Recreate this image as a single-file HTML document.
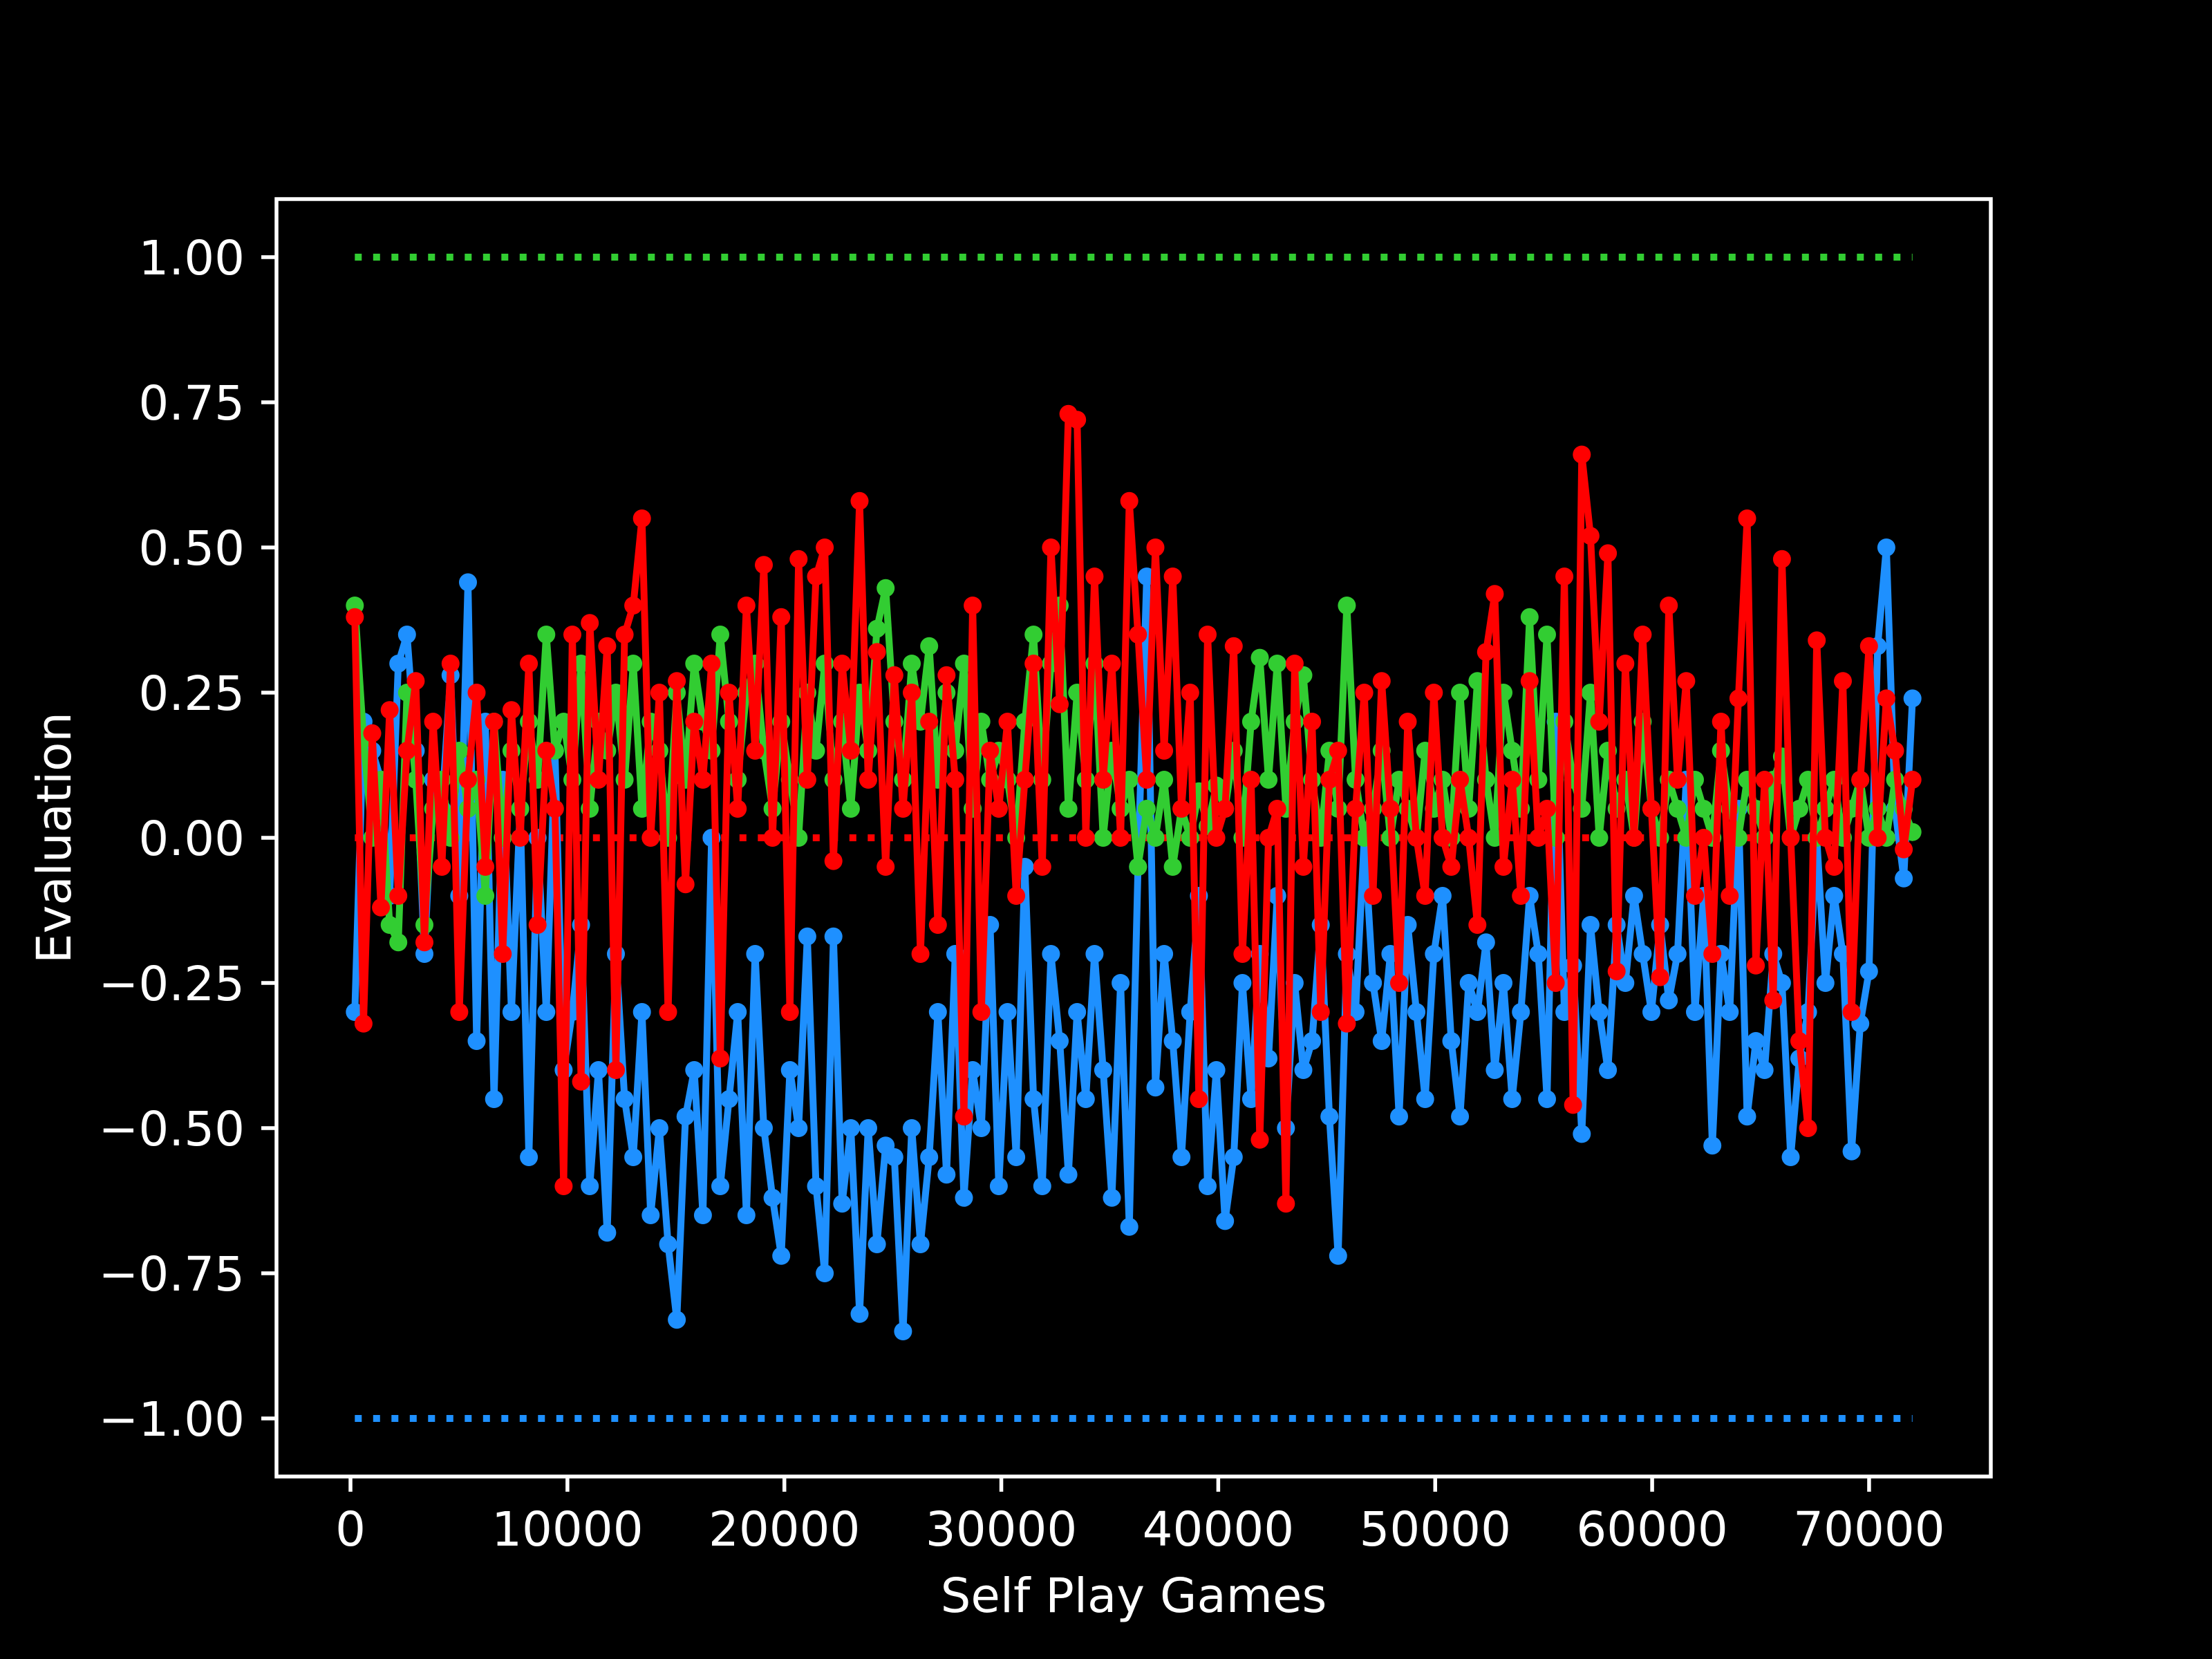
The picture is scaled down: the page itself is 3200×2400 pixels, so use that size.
<!DOCTYPE html>
<html><head><meta charset="utf-8"><style>
html,body{margin:0;padding:0;background:#000;}
svg{display:block;}
text{font-family:"DejaVu Sans","Liberation Sans",sans-serif;fill:#fff;}
</style></head><body>
<svg id="chart" width="3200" height="2400" viewBox="0 0 3200 2400" xmlns="http://www.w3.org/2000/svg">
<rect x="0" y="0" width="3200" height="2400" fill="#000"/>
<g id="plot"></g>
<g id="axes"></g>
<text x="1640" y="2332" font-size="69" text-anchor="middle">Self Play Games</text>
<text x="0" y="0" font-size="69" text-anchor="middle" transform="translate(102,1212) rotate(-90)">Evaluation</text>
</svg>
<script>
const xTicks = [0,10000,20000,30000,40000,50000,60000,70000];
const yTicks = [-1.0,-0.75,-0.5,-0.25,0.0,0.25,0.5,0.75,1.0];
const yTickLabels = ["\u22121.00","\u22120.75","\u22120.50","\u22120.25","0.00","0.25","0.50","0.75","1.00"];
const xStart = 200;
const xEnd = 72000;
const refLevels = [1.0, -1.0, 0.0];
const blueValues = [
-0.3,0.2,0.15,0.1,-0.1,0.3,0.35,0.15,-0.2,0.1,0.05,
0.28,-0.1,0.44,-0.35,0.2,-0.45,0.1,-0.3,0.05,-0.55,0.0,-0.3,0.15,-0.4,
-0.3,-0.15,-0.6,-0.4,-0.68,-0.2,-0.45,-0.55,-0.3,-0.65,-0.5,-0.7,-0.83,-0.48,-0.4,-0.65,0.0,-0.6,-0.45,-0.3,-0.65,-0.2,-0.5,-0.62,-0.72,
-0.4,-0.5,-0.17,-0.6,-0.75,-0.17,-0.63,-0.5,-0.82,-0.5,-0.7,-0.53,-0.55,-0.85,-0.5,-0.7,-0.55,-0.3,-0.58,-0.2,-0.62,-0.4,-0.5,-0.15,-0.6,
-0.3,-0.55,-0.05,-0.45,-0.6,-0.2,-0.35,-0.58,-0.3,-0.45,-0.2,-0.4,-0.62,-0.25,-0.67,-0.05,0.45,-0.43,-0.2,-0.35,-0.55,-0.3,-0.1,-0.6,-0.4,
-0.66,-0.55,-0.25,-0.45,-0.2,-0.38,-0.1,-0.5,-0.25,-0.4,-0.35,-0.15,-0.48,-0.72,-0.2,-0.3,0.0,-0.25,-0.35,-0.2,-0.48,-0.15,-0.3,-0.45,-0.2,
-0.1,-0.35,-0.48,-0.25,-0.3,-0.18,-0.4,-0.25,-0.45,-0.3,-0.1,-0.2,-0.45,0.2,-0.3,-0.22,-0.51,-0.15,-0.3,-0.4,-0.15,-0.25,-0.1,-0.2,-0.3,
-0.15,-0.28,-0.2,0.1,-0.3,-0.1,-0.53,-0.2,-0.3,0.05,-0.48,-0.35,-0.4,-0.2,-0.25,-0.55,-0.38,-0.3,0.0,-0.25,-0.1,-0.2,-0.54,-0.32,-0.23,0.33,0.5,0.05,-0.07,0.24];
const greenValues = [
0.4,0.17,0.0,0.1,-0.15,-0.18,0.25,0.1,-0.15,0.05,0.1,
0.0,0.15,0.05,0.1,-0.1,0.2,0.0,0.15,0.05,0.2,0.1,0.35,0.15,0.2,
0.1,0.3,0.05,0.2,0.15,0.25,0.1,0.3,0.05,0.2,0.15,0.0,0.25,0.1,0.3,0.2,0.15,0.35,0.2,0.1,0.25,0.3,0.15,0.05,0.2,
0.1,0.0,0.25,0.15,0.3,0.1,0.2,0.05,0.25,0.15,0.36,0.43,0.2,0.1,0.3,0.2,0.33,0.1,0.25,0.15,0.3,0.05,0.2,0.1,0.15,
0.1,0.0,0.2,0.35,0.1,0.3,0.4,0.05,0.25,0.1,0.3,0.0,0.15,0.05,0.1,-0.05,0.05,0.0,0.1,-0.05,0.05,0.0,0.08,0.02,0.09,
0.05,0.15,0.0,0.2,0.31,0.1,0.3,0.05,0.2,0.28,0.1,0.0,0.15,0.05,0.4,0.1,0.0,0.05,0.15,0.0,0.1,0.05,0.0,0.15,0.05,
0.1,0.0,0.25,0.05,0.27,0.1,0.0,0.25,0.15,0.05,0.38,0.1,0.35,0.0,0.2,0.1,0.05,0.25,0.0,0.15,0.05,0.1,0.0,0.2,0.05,
0.0,0.1,0.05,0.0,0.1,0.05,0.0,0.15,0.05,0.0,0.1,0.05,0.0,0.1,0.14,0.0,0.05,0.1,0.0,0.05,0.1,0.0,0.05,0.1,0.0,0.05,0.0,0.1,0.05,0.01];
const redValues = [
0.38,-0.32,0.18,-0.12,0.22,-0.1,0.15,0.27,-0.18,0.2,-0.05,
0.3,-0.3,0.1,0.25,-0.05,0.2,-0.2,0.22,0.0,0.3,-0.15,0.15,0.05,-0.6,
0.35,-0.42,0.37,0.1,0.33,-0.4,0.35,0.4,0.55,0.0,0.25,-0.3,0.27,-0.08,0.2,0.1,0.3,-0.38,0.25,0.05,0.4,0.15,0.47,0.0,0.38,
-0.3,0.48,0.1,0.45,0.5,-0.04,0.3,0.15,0.58,0.1,0.32,-0.05,0.28,0.05,0.25,-0.2,0.2,-0.15,0.28,0.1,-0.48,0.4,-0.3,0.15,0.05,
0.2,-0.1,0.1,0.3,-0.05,0.5,0.23,0.73,0.72,0.0,0.45,0.1,0.3,0.0,0.58,0.35,0.1,0.5,0.15,0.45,0.05,0.25,-0.45,0.35,0.0,
0.05,0.33,-0.2,0.1,-0.52,0.0,0.05,-0.63,0.3,-0.05,0.2,-0.3,0.1,0.15,-0.32,0.05,0.25,-0.1,0.27,0.05,-0.25,0.2,0.0,-0.1,0.25,
0.0,-0.05,0.1,0.0,-0.15,0.32,0.42,-0.05,0.1,-0.1,0.27,0.0,0.05,-0.25,0.45,-0.46,0.66,0.52,0.2,0.49,-0.23,0.3,0.0,0.35,0.05,
-0.24,0.4,0.1,0.27,-0.1,0.0,-0.2,0.2,-0.1,0.24,0.55,-0.22,0.1,-0.28,0.48,0.0,-0.35,-0.5,0.34,0.0,-0.05,0.27,-0.3,0.1,0.33,0.0,0.24,0.15,-0.02,0.1];

const NS = "http://www.w3.org/2000/svg";
const L = 400, R = 2880, T = 288, B = 2136;
const xMin = -3410, xMax = 75610, yMin = -1.1, yMax = 1.1;
function xScale(v){ return L + (v - xMin) / (xMax - xMin) * (R - L); }
function yScale(v){ return B - (v - yMin) / (yMax - yMin) * (B - T); }
function mk(tag, attrs, parent){
  const e = document.createElementNS(NS, tag);
  for (const k in attrs) e.setAttribute(k, attrs[k]);
  parent.appendChild(e);
  return e;
}
const plot = document.getElementById('plot');
const axes = document.getElementById('axes');

const refColors = ['#32cd32', '#1e90ff', '#ff0000'];
const refNames = ['green-reference-line', 'blue-reference-line', 'red-reference-line'];
refLevels.forEach((lv, i) => {
  const ln = mk('line', {x1: xScale(xStart), x2: xScale(xEnd), y1: yScale(lv), y2: yScale(lv), stroke: refColors[i], 'stroke-width': 10, 'stroke-dasharray': '10 16.5'}, plot);
  
  
});

function drawSeries(vals, color, name){
  const g = mk('g', {}, plot);
  
  
  const n = vals.length;
  const xs = vals.map((v, i) => xStart + i * (xEnd - xStart) / (n - 1));
  const pts = vals.map((v, i) => xScale(xs[i]).toFixed(1) + ',' + yScale(v).toFixed(1)).join(' ');
  const pl = mk('polyline', {points: pts, fill: 'none', stroke: color, 'stroke-width': 10, 'stroke-linejoin': 'round'}, g);
  
  
  vals.forEach((v, i) => {
    const c = mk('circle', {cx: xScale(xs[i]).toFixed(1), cy: yScale(v).toFixed(1), r: 13, fill: color}, g);
    
    
  });
}
drawSeries(blueValues, '#1e90ff', 'blue-series');
drawSeries(greenValues, '#32cd32', 'green-series');
drawSeries(redValues, '#ff0000', 'red-series');

const frame = mk('rect', {x: L, y: T, width: R - L, height: B - T, fill: 'none', stroke: '#fff', 'stroke-width': 5.5}, axes);



xTicks.forEach(v => {
  const x = xScale(v);
  const t = mk('line', {x1: x, x2: x, y1: B, y2: B + 22, stroke: '#fff', 'stroke-width': 5.5}, axes);
  
  
  const tx = mk('text', {x: x, y: B + 100, 'font-size': 69, 'text-anchor': 'middle'}, axes);
  tx.textContent = String(v);
  
  
});
yTicks.forEach((v, i) => {
  const y = yScale(v);
  const t = mk('line', {x1: L - 22, x2: L, y1: y, y2: y, stroke: '#fff', 'stroke-width': 5.5}, axes);
  
  
  const tx = mk('text', {x: L - 46, y: y + 25, 'font-size': 69, 'text-anchor': 'end'}, axes);
  tx.textContent = yTickLabels[i];
  
  
});
</script>
</body></html>
